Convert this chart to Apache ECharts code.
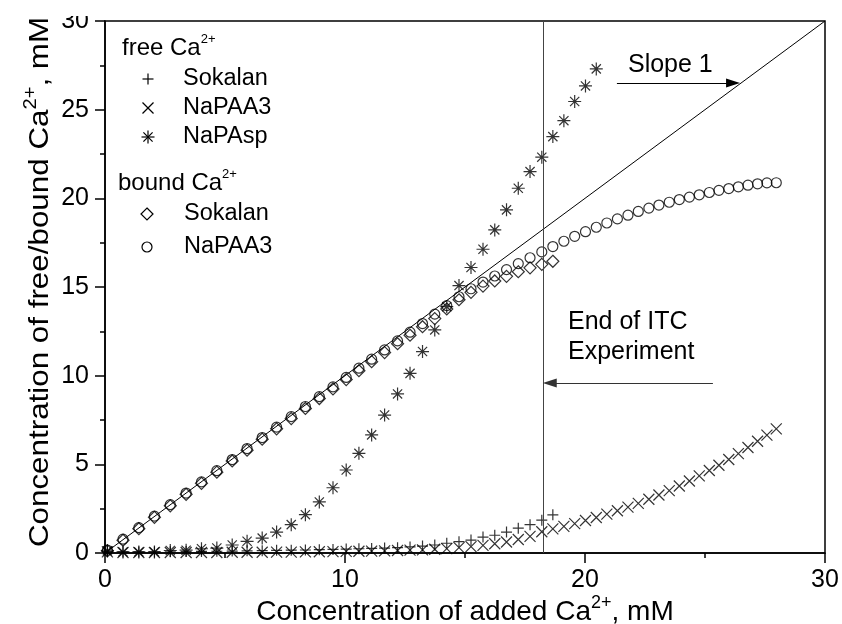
<!DOCTYPE html>
<html><head><meta charset="utf-8">
<script src="https://cdn.jsdelivr.net/npm/echarts/dist/echarts.min.js"></script>
<style>html,body{margin:0;padding:0;background:#fff}#c{width:842px;height:624px}</style>
</head><body><div id="c"></div>
<script>
// ---- data ----
const addedCa = [0.10,0.75,1.41,2.06,2.72,3.38,4.02,4.66,5.30,5.92,6.55,7.15,7.76,8.35,8.93,9.50,10.05,
  10.58,11.11,11.65,12.19,12.71,13.23,13.74,14.24,14.75,15.25,15.75,16.24,16.73,17.22,17.71,18.20,
  18.66,19.12,19.57,20.02,20.47,20.91,21.35,21.79,22.22,22.66,23.08,23.51,23.93,24.35,24.76,25.18,25.58,25.99,26.39,26.79,27.19,27.58,27.97];
const freeSokalan = [0.08,0.06,0.06,0.06,0.07,0.08,0.09,0.10,0.11,0.12,0.13,0.15,0.16,0.17,0.19,0.20,0.22,
  0.24,0.26,0.28,0.30,0.34,0.39,0.45,0.55,0.64,0.73,0.90,1.00,1.18,1.40,1.60,1.85,2.15];
const freeNaPAA3 = [0.06,0.03,0.03,0.03,0.03,0.03,0.03,0.03,0.04,0.04,0.04,0.05,0.05,0.06,0.07,0.08,0.09,
  0.10,0.11,0.12,0.14,0.16,0.18,0.21,0.25,0.30,0.36,0.43,0.52,0.62,0.76,0.94,1.20,
  1.36,1.50,1.66,1.83,2.00,2.19,2.38,2.59,2.80,3.03,3.27,3.52,3.78,4.06,4.35,4.65,4.95,5.27,5.60,5.95,6.30,6.65,7.00];
const freeNaPAsp = [0.12,0.06,0.06,0.06,0.14,0.16,0.24,0.28,0.45,0.66,0.84,1.18,1.60,2.16,2.88,3.68,4.68,
  5.62,6.66,7.78,8.97,10.13,11.36,12.58,13.89,15.08,16.10,17.13,18.22,19.35,20.57,21.51,22.32,
  23.48,24.38,25.46,26.34,27.30];
const boundSokalan = [0.12,0.72,1.37,2.01,2.66,3.31,3.93,4.56,5.19,5.80,6.42,7.00,7.58,8.15,8.71,9.25,9.78,
  10.28,10.79,11.30,11.80,12.28,12.76,13.22,13.76,14.28,14.70,15.05,15.34,15.60,15.86,16.08,16.28,16.45];
const boundNaPAA3 = [0.16,0.78,1.43,2.08,2.73,3.38,4.01,4.64,5.27,5.89,6.51,7.10,7.69,8.26,8.82,9.37,9.90,
  10.42,10.93,11.45,11.96,12.45,12.94,13.47,13.95,14.45,14.90,15.28,15.62,15.98,16.32,16.65,16.98,
  17.28,17.58,17.86,18.12,18.37,18.61,18.84,19.05,19.26,19.45,19.62,19.78,19.93,20.07,20.20,20.33,20.45,20.55,20.65,20.74,20.82,20.87,20.88];
const xTickValues = [0, 10, 20, 30];
const yTickValues = [0, 5, 10, 15, 20, 25, 30];
const slopeLine = [[0, 0], [30, 30]];
const itcEndX = 18.24;
const slopeArrow = [[21.33, 26.5], [26.46, 26.5]];   // tail, tip
const itcArrow = [[25.33, 9.59], [18.24, 9.59]];     // tail, tip
const notes = [
  {text: 'Slope 1', at: [21.79, 27.52]},
  {text: 'End of ITC', at: [19.29, 13.03]},
  {text: 'Experiment', at: [19.29, 11.34]}
];
const legendFreeTitle = 'free Ca{sup|2+}';
const legendBoundTitle = 'bound Ca{sup|2+}';
const legendFree = [['Sokalan', 'plus'], ['NaPAA3', 'cross'], ['NaPAsp', 'star']];
const legendBound = [['Sokalan', 'diamond'], ['NaPAA3', 'circle']];
const xTitle = 'Concentration of added Ca{sup|2+}, mM';
const yTitle = 'Concentration of free/bound Ca{sup|2+}, mM';

// ---- chart ----
const FONT = '"Liberation Sans", Arial, Helvetica, sans-serif';
const pair = (ys) => ys.map((y, i) => [addedCa[i], y]);
const SYM = {
  plus: 'path://M5,0L5,10M0,5L10,5',
  cross: 'path://M0,0L10,10M10,0L0,10',
  star: 'path://M5,0L5,10M0,5L10,5M1.46,1.46L8.54,8.54M8.54,1.46L1.46,8.54',
  diamond: 'diamond',
  circle: 'circle'
};
const SIZE = {plus: 11, cross: 11, star: 13, diamond: 12, circle: 10};
function scatter(id, ys, sym) {
  return {
    id, name: id, type: 'scatter', data: pair(ys), symbol: SYM[sym], symbolSize: SIZE[sym],
    itemStyle: {color: 'transparent', borderColor: '#000', borderWidth: 1.2},
    emphasis: {disabled: true}, silent: true, animation: false, z: 3
  };
}
const chart = echarts.init(document.getElementById('c'), null, {renderer: 'canvas'});
const HEAD = [9, 14];
chart.setOption({
  animation: false,
  backgroundColor: '#fff',
  grid: {left: 105, right: 17, top: 21, bottom: 71, show: true, borderColor: '#000', borderWidth: 1.5, backgroundColor: 'transparent'},
  xAxis: {
    type: 'value', min: 0, max: 30, interval: 10,
    axisLine: {show: true, onZero: false, lineStyle: {color: '#000', width: 1.5}},
    axisTick: {show: true, inside: false, length: 10, lineStyle: {color: '#000', width: 1.5}},
    minorTick: {show: true, splitNumber: 2, length: 5, lineStyle: {color: '#000', width: 1.5}},
    splitLine: {show: false},
    axisLabel: {color: '#000', fontSize: 25, fontFamily: FONT, margin: 15,
      formatter: (v) => xTickValues.includes(v) ? String(v) : ''}
  },
  yAxis: {
    type: 'value', min: 0, max: 30, interval: 5,
    axisLine: {show: true, onZero: false, lineStyle: {color: '#000', width: 1.5}},
    axisTick: {show: true, inside: false, length: 10, lineStyle: {color: '#000', width: 1.5}},
    minorTick: {show: true, splitNumber: 2, length: 5, lineStyle: {color: '#000', width: 1.5}},
    splitLine: {show: false},
    axisLabel: {color: '#000', fontSize: 25, fontFamily: FONT, margin: 16,
      formatter: (v) => yTickValues.includes(v) ? String(v) : ''}
  },
  series: [
    scatter('bound Sokalan', boundSokalan, 'diamond'),
    scatter('bound NaPAA3', boundNaPAA3, 'circle'),
    scatter('free NaPAA3', freeNaPAA3, 'cross'),
    scatter('free Sokalan', freeSokalan, 'plus'),
    scatter('free NaPAsp', freeNaPAsp, 'star')
  ]
});

// arrows: the head symbol is centred on the end point, so pull the end back by half a head
function headEnd(arrow) {
  const a = chart.convertToPixel({gridIndex: 0}, arrow[0]);
  const b = chart.convertToPixel({gridIndex: 0}, arrow[1]);
  const dx = b[0] - a[0], dy = b[1] - a[1], len = Math.hypot(dx, dy);
  const k = (HEAD[1] / 2) / len;
  return chart.convertFromPixel({gridIndex: 0}, [b[0] - dx * k, b[1] - dy * k]);
}
const lineItem = (p0, p1, color, endSym) => [
  {coord: p0, symbol: 'none', lineStyle: {color, width: 1, type: 'solid'}},
  {coord: p1, symbol: endSym || 'none', symbolSize: HEAD, itemStyle: {color: '#000'}}
];
chart.setOption({
  series: [{
    id: 'annotations', name: 'annotations', type: 'scatter', data: [], silent: true, z: 2,
    markLine: {
      silent: true, animation: false, label: {show: false}, emphasis: {disabled: true},
      symbol: ['none', 'none'],
      data: [
        lineItem(slopeLine[0], slopeLine[1], '#000'),
        lineItem([itcEndX, 0], [itcEndX, 30], '#444'),
        lineItem(slopeArrow[0], headEnd(slopeArrow), '#000', 'triangle'),
        lineItem(itcArrow[0], headEnd(itcArrow), '#333', 'triangle')
      ]
    }
  }]
});

// ---- texts and legend (graphic) ----
function symShapes(type, cx, cy) {
  const st = {stroke: '#000', lineWidth: 1.2, fill: 'none'};
  const L = (x1, y1, x2, y2) => ({type: 'line', shape: {x1, y1, x2, y2}, style: st, silent: true});
  const h = 5.5;
  if (type === 'plus') return [L(cx - h, cy, cx + h, cy), L(cx, cy - h, cx, cy + h)];
  if (type === 'cross') return [L(cx - h, cy - h, cx + h, cy + h), L(cx + h, cy - h, cx - h, cy + h)];
  if (type === 'star') { const d = 4.6;
    return [L(cx - 6.5, cy, cx + 6.5, cy), L(cx, cy - 6.5, cx, cy + 6.5), L(cx - d, cy - d, cx + d, cy + d), L(cx + d, cy - d, cx - d, cy + d)]; }
  if (type === 'diamond') return [{type: 'polygon', shape: {points: [[cx, cy - 6], [cx + 6, cy], [cx, cy + 6], [cx - 6, cy]]}, style: st, silent: true}];
  return [{type: 'circle', shape: {cx, cy, r: 5}, style: st, silent: true}];
}
function richText(text, x, y, size, supSize, raise, extra) {
  const lh = supSize + 2 + 2 * raise;
  return Object.assign({
    type: 'text', x, y, silent: true, z: 10,
    style: {
      text, fill: '#000', fontSize: size, fontFamily: FONT, lineHeight: Math.max(lh, size + 4),
      align: 'left', verticalAlign: 'middle',
      rich: {sup: {fontSize: supSize, fontFamily: FONT, fill: '#000', lineHeight: supSize + 2, verticalAlign: 'top'}}
    }
  }, extra || {});
}
const g = [];
g.push(richText(legendFreeTitle, 122, 48, 24, 13, 8));
legendFree.forEach((e, i) => {
  const y = 79 + i * 29;
  g.push(...symShapes(e[1], 148, y));
  g.push({type: 'text', x: 183, y, silent: true, style: {text: e[0], fill: '#000', fontSize: 23.5, fontFamily: FONT, align: 'left', verticalAlign: 'middle'}});
});
g.push(richText(legendBoundTitle, 118, 183, 24, 13, 8));
legendBound.forEach((e, i) => {
  const y = 214 + i * 33;
  g.push(...symShapes(e[1], 147, y));
  g.push({type: 'text', x: 184, y, silent: true, style: {text: e[0], fill: '#000', fontSize: 23.5, fontFamily: FONT, align: 'left', verticalAlign: 'middle'}});
});
notes.forEach((n) => {
  const p = chart.convertToPixel({gridIndex: 0}, n.at);
  g.push({type: 'text', x: p[0], y: p[1], silent: true, style: {text: n.text, fill: '#000', fontSize: 25, fontFamily: FONT, align: 'left', verticalAlign: 'middle'}});
});
const xt = richText(xTitle, 465, 612, 28, 18, 8);
xt.style.align = 'center';
g.push(xt);
const yt = richText(yTitle, 40, 282, 28, 18, 8, {rotation: Math.PI / 2, scaleX: 1.12});
yt.style.align = 'center';
g.push(yt);
g.push({type: 'rect', shape: {x: 50, y: 0, width: 50, height: 16}, style: {fill: '#fff'}, silent: true, z: 20});
chart.setOption({graphic: g});
</script>
</body></html>
